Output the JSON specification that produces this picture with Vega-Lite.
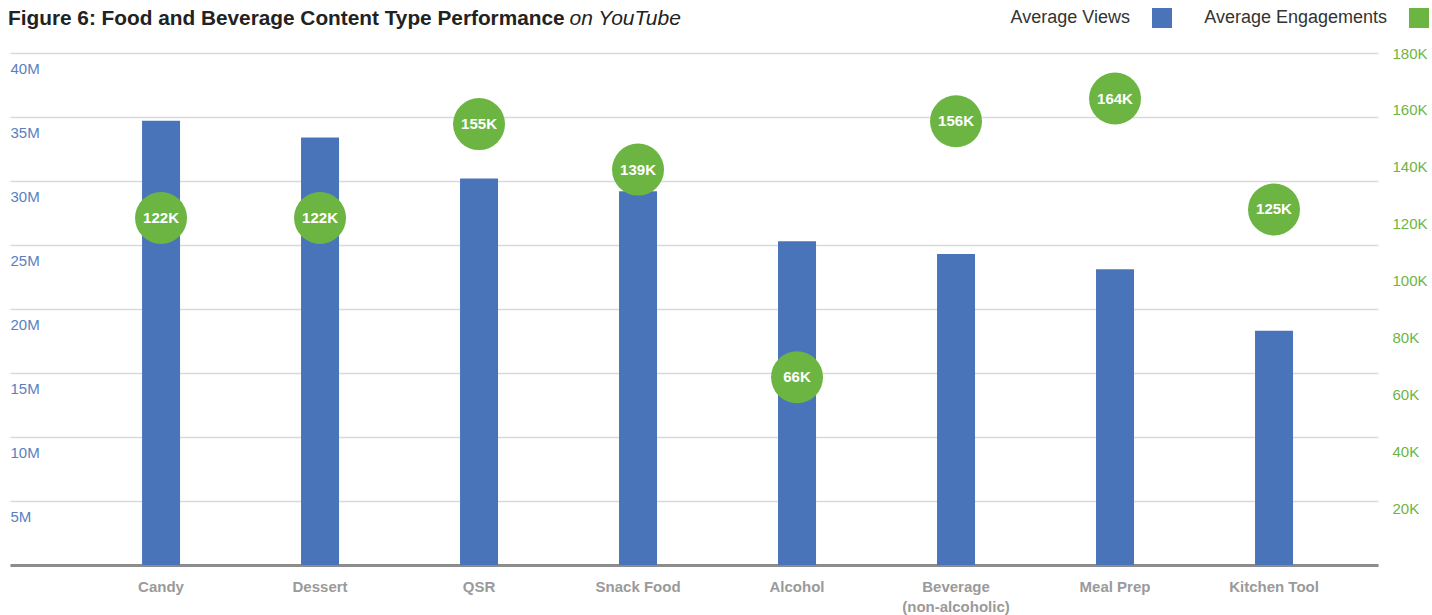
{
  "$schema": "https://vega.github.io/schema/vega-lite/v6.json",
  "width": 1368,
  "height": 512,
  "autosize": {"type": "none"},
  "padding": {"left": 10, "top": 53, "right": 54, "bottom": 50},
  "background": "white",
  "title": {
    "text": "Figure 6: Food and Beverage Content Type Performance",
    "anchor": "start",
    "font": "Liberation Sans",
    "fontSize": 20.8,
    "fontWeight": "bold",
    "color": "#222222",
    "offset": -23,
    "dx": -2
  },
  "config": {
    "view": {"stroke": null},
    "font": "Liberation Sans"
  },
  "data": {
    "values": [
      {"category": "Candy", "views": 34700000, "engagements": 122000, "label": "122K"},
      {"category": "Dessert", "views": 33400000, "engagements": 122000, "label": "122K"},
      {"category": "QSR", "views": 30200000, "engagements": 155000, "label": "155K"},
      {"category": "Snack Food", "views": 29200000, "engagements": 139000, "label": "139K"},
      {"category": "Alcohol", "views": 25300000, "engagements": 66000, "label": "66K"},
      {"category": "Beverage (non-alcoholic)", "views": 24300000, "engagements": 156000, "label": "156K"},
      {"category": "Meal Prep", "views": 23100000, "engagements": 164000, "label": "164K"},
      {"category": "Kitchen Tool", "views": 18300000, "engagements": 125000, "label": "125K"}
    ]
  },
  "encoding": {
    "x": {
      "field": "category",
      "type": "nominal",
      "sort": null,
      "scale": {"paddingInner": 0, "paddingOuter": 0.302, "align": 0.745},
      "axis": {
        "title": null,
        "ticks": false,
        "domainColor": "#8c8c8c",
        "domainWidth": 3,
        "labelAngle": 0,
        "labelFont": "Liberation Sans",
        "labelFontSize": 15,
        "labelFontWeight": "bold",
        "labelColor": "#9a9a9a",
        "labelPadding": 14,
        "labelLineHeight": 20,
        "labelExpr": "datum.label == 'Beverage (non-alcoholic)' ? ['Beverage', '(non-alcoholic)'] : datum.label"
      }
    }
  },
  "layer": [
    {
      "mark": {"type": "bar", "width": 38},
      "encoding": {
        "y": {
          "field": "views",
          "type": "quantitative",
          "scale": {"domain": [0, 40000000], "nice": false},
          "axis": {
            "orient": "left",
            "title": "on YouTube",
            "titleAngle": 0,
            "titleFont": "Liberation Sans",
            "titleFontSize": 21,
            "titleFontWeight": "normal",
            "titleFontStyle": "italic",
            "titleColor": "#222222",
            "titleAlign": "left",
            "titleBaseline": "alphabetic",
            "titleX": 559,
            "titleY": -29,
            "values": [0, 5000000, 10000000, 15000000, 20000000, 25000000, 30000000, 35000000, 40000000],
            "labelExpr": "datum.value == 0 ? '' : (datum.value / 1000000) + 'M'",
            "labelAlign": "left",
            "labelBaseline": "top",
            "labelOffset": 8,
            "labelPadding": 0,
            "ticks": false,
            "tickSize": 0,
            "domain": false,
            "grid": true,
            "gridColor": "#d9d9d9",
            "gridWidth": 1.5,
            "labelFontSize": 15,
            "labelColor": "#5a7fc0"
          }
        },
        "color": {
          "datum": "Average Views",
          "type": "nominal",
          "scale": {"domain": ["Average Views", "Average Engagements"], "range": ["#4a74ba", "#6db543"]},
          "legend": {
            "title": null,
            "orient": "none",
            "legendX": 1142,
            "legendY": -45,
            "direction": "horizontal",
            "symbolType": "square",
            "symbolSize": 400,
            "symbolStrokeWidth": 0,
            "labelAlign": "right",
            "labelOffset": -42,
            "labelFontSize": 18,
            "labelColor": "#333333",
            "labelFont": "Liberation Sans",
            "columnPadding": 32,
            "labelLimit": 300
          }
        }
      }
    },
    {
      "encoding": {
        "y": {
          "field": "engagements",
          "type": "quantitative",
          "scale": {"domain": [0, 180000], "nice": false},
          "axis": {
            "orient": "right",
            "title": null,
            "values": [20000, 40000, 60000, 80000, 100000, 120000, 140000, 160000, 180000],
            "labelExpr": "(datum.value / 1000) + 'K'",
            "labelAlign": "left",
            "labelPadding": 14,
            "ticks": false,
            "tickSize": 0,
            "domain": false,
            "grid": false,
            "labelFontSize": 15,
            "labelColor": "#6db543"
          }
        }
      },
      "layer": [
        {
          "mark": {"type": "point", "filled": true, "opacity": 1, "size": 2704, "shape": "circle"},
          "encoding": {
            "color": {"datum": "Average Engagements", "type": "nominal"}
          }
        },
        {
          "mark": {"type": "text", "color": "white", "fontWeight": "bold", "fontSize": 15, "font": "Liberation Sans"},
          "encoding": {
            "text": {"field": "label"}
          }
        }
      ]
    }
  ],
  "resolve": {"scale": {"y": "independent"}}
}
